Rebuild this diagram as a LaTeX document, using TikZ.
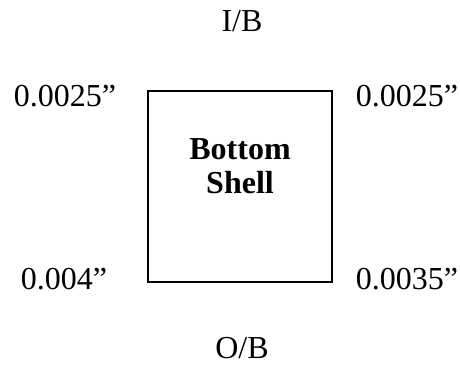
\documentclass[tikz,border=0pt]{standalone}
\usepackage{fontspec}
\setmainfont{Liberation Serif}
\begin{document}
\begin{tikzpicture}[x=1pt,y=-1pt,
  lbl/.style={anchor=base,inner sep=0pt,font=\fontsize{32}{34}\selectfont},
  boxstyle/.style={draw,line width=2pt}]
\useasboundingbox (0,0) rectangle (460,368);
\node[boxstyle,minimum width=184pt,minimum height=191pt,inner sep=0pt] (box) at (240,186.5) {};
\node[lbl,font=\fontsize{32}{34}\selectfont\bfseries] (t1) at (240,159) {Bottom};
\node[lbl,font=\fontsize{32}{34}\selectfont\bfseries] (t2) at (240,193) {Shell};
\node[lbl] (ib) at (242,31) {I/B};
\node[lbl] (ob) at (242,358) {O/B};
\node[lbl] (tl) at (65,106) {0.0025”};
\node[lbl] (tr) at (407,106) {0.0025”};
\node[lbl] (bl) at (64,289) {0.004”};
\node[lbl] (br) at (407,289) {0.0035”};
\end{tikzpicture}
\end{document}
